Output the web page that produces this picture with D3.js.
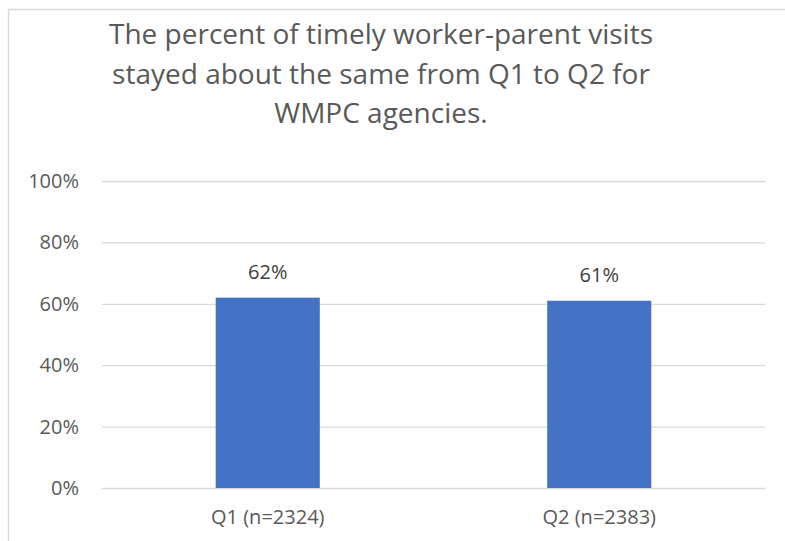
<!DOCTYPE html>
<html>
<head>
<meta charset="utf-8">
<script src="https://cdn.jsdelivr.net/npm/d3@7"></script>
<style>
  html, body { margin: 0; padding: 0; background: #fff; }
  svg { display: block; }
  svg text { font-family: "Open Sans", "Noto Sans", sans-serif; }
</style>
</head>
<body>
<svg id="main-svg" width="785" height="541"></svg>
<script>
// chart data
var categories = ["Q1 (n=2324)", "Q2 (n=2383)"];
var values = [0.62, 0.61];
var valueLabels = ["62%", "61%"];
var yTicks = [0, 0.2, 0.4, 0.6, 0.8, 1.0];
var titleLines = [
  "The percent of timely worker-parent visits",
  "stayed about the same from Q1 to Q2 for",
  "WMPC agencies."
];

var svg = d3.select("#main-svg");
var margin = {left: 102, right: 20, top: 181, bottom: 53};
var W = 785, H = 541;
var fontFam = "'Open Sans', 'Noto Sans', sans-serif";

// chart frame (runs off the right and bottom edge)
svg.append("rect")
   .attr("x", 8.5).attr("y", 9.5)
   .attr("width", 800).attr("height", 560)
   .style("fill", "#fff")
   .style("stroke", "#d9d9d9")
   .style("stroke-width", 1.5);

var x = d3.scaleBand()
    .domain(categories)
    .range([margin.left, W - margin.right])
    .paddingInner(0.686)
    .paddingOuter(0.343);

var y = d3.scaleLinear()
    .domain([0, 1])
    .range([H - margin.bottom, margin.top]);

// gridlines + y labels
var yAxis = svg.append("g")
    .attr("transform", "translate(" + margin.left + ",0)")
    .call(d3.axisLeft(y)
      .tickValues(yTicks)
      .tickSize(-(W - margin.right - margin.left))
      .tickPadding(23)
      .tickFormat(d3.format(".0%")));
yAxis.attr("font-family", fontFam);
yAxis.select(".domain").remove();
yAxis.selectAll(".tick line")
     .style("stroke", "#d9d9d9")
     .style("stroke-width", 1.3);
yAxis.selectAll(".tick text")
     .style("font-size", "20px")
     .style("fill", "#595959");

// bars
svg.append("g")
   .selectAll("rect")
   .data(values)
   .enter().append("rect")
   .attr("x", function(d, i) { return x(categories[i]); })
   .attr("y", function(d) { return y(d); })
   .attr("width", x.bandwidth())
   .attr("height", function(d) { return y(0) - y(d); })
   .style("fill", "#4472c4");

// value labels
svg.append("g")
   .selectAll("text")
   .data(values)
   .enter().append("text")
   .attr("x", function(d, i) { return x(categories[i]) + x.bandwidth() / 2; })
   .attr("y", function(d) { return y(d) - 19; })
   .attr("text-anchor", "middle")
   .style("font-size", "20px")
   .style("fill", "#404040")
   .text(function(d, i) { return valueLabels[i]; });

// x axis labels
var xAxis = svg.append("g")
    .attr("transform", "translate(0," + y(0) + ")")
    .call(d3.axisBottom(x).tickSize(0).tickPadding(22));
xAxis.attr("font-family", fontFam);
xAxis.select(".domain").remove();
xAxis.selectAll(".tick text")
     .style("font-size", "20px")
     .style("fill", "#595959");

// title
svg.append("g")
   .selectAll("text")
   .data(titleLines)
   .enter().append("text")
   .attr("x", 381)
   .attr("y", function(d, i) { return 44 + i * 39.5; })
   .attr("text-anchor", "middle")
   .style("font-size", "28px")
   .style("fill", "#595959")
   .text(function(d) { return d; });
</script>
</body>
</html>
